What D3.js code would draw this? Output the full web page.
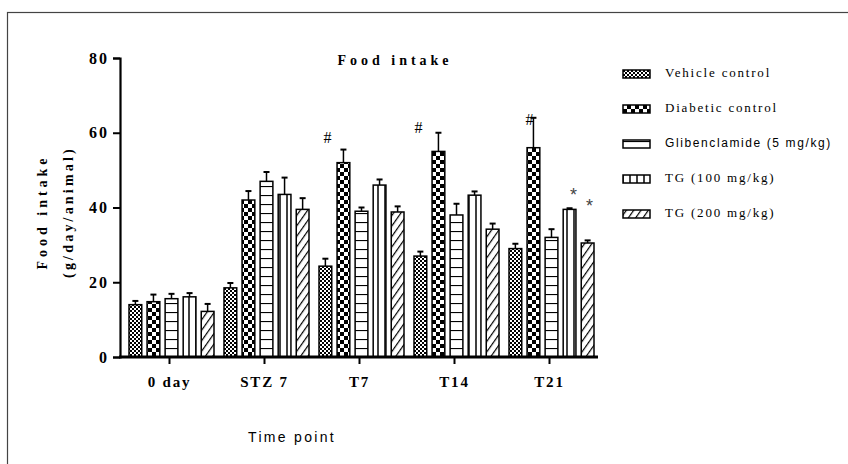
<!DOCTYPE html>
<html>
<head>
<meta charset="utf-8">
<script src="https://cdn.jsdelivr.net/npm/d3@7"></script>
<style>
	body { margin: 0; background: #fff; }
	svg { display: block; }
	.serif { font-family: "Liberation Serif", "Times New Roman", serif; }
	.sans { font-family: "Liberation Sans", Arial, sans-serif; }
</style>
</head>
<body>
<svg id="chart" width="848" height="464"></svg>
<script>
// values
const timePoints = ["0 day", "STZ 7", "T7", "T14", "T21"];
const seriesNames = ["Vehicle control", "Diabetic control", "Glibenclamide (5 mg/kg)", "TG (100 mg/kg)", "TG (200 mg/kg)"];
const vehicleMeans  = [14, 18.5, 24.3, 27, 29];
const vehicleErr    = [1, 1.3, 2, 1.2, 1.3];
const diabeticMeans = [14.8, 42, 52, 55, 56];
const diabeticErr   = [1.9, 2.4, 3.5, 5, 8];
const glibMeans     = [15.6, 47, 39, 38, 32];
const glibErr       = [1.3, 2.5, 1, 3, 2.2];
const tg100Means    = [16.1, 43.5, 46, 43.3, 39.5];
const tg100Err      = [1, 4.5, 1.5, 1, 0.3];
const tg200Means    = [12.2, 39.5, 38.8, 34.2, 30.5];
const tg200Err      = [2, 3, 1.5, 1.5, 0.7];
const yTicks = [0, 20, 40, 60, 80];
const marks = [
	{group: "T7", series: 1, label: "#", value: 58.3, dx: -16},
	{group: "T14", series: 1, label: "#", value: 61, dx: -20},
	{group: "T21", series: 1, label: "#", value: 63, dx: -4},
	{group: "T21", series: 3, label: "*", value: 44.2, dx: 4},
	{group: "T21", series: 4, label: "*", value: 41.2, dx: 2}
];

const means = [vehicleMeans, diabeticMeans, glibMeans, tg100Means, tg200Means];
const errs = [vehicleErr, diabeticErr, glibErr, tg100Err, tg200Err];
const patterns = ["pVehicle", "pDiabetic", "pGlib", "pTg100", "pTg200"];

const svg = d3.select("#chart");

// frame round the figure
svg.append("rect")
	.attr("x", 7.5).attr("y", 12.5)
	.attr("width", 860).attr("height", 470)
	.attr("fill", "none").attr("stroke", "#444").attr("stroke-width", 1.2);

// fill patterns
const defs = svg.append("defs");
let p = defs.append("pattern").attr("id", "pVehicle").attr("patternUnits", "userSpaceOnUse")
	.attr("width", 4).attr("height", 4);
p.append("rect").attr("width", 4).attr("height", 4).attr("fill", "#fff");
p.append("rect").attr("width", 2).attr("height", 2).attr("fill", "#000");
p.append("rect").attr("x", 2).attr("y", 2).attr("width", 2).attr("height", 2).attr("fill", "#000");

p = defs.append("pattern").attr("id", "pDiabetic").attr("patternUnits", "userSpaceOnUse")
	.attr("width", 8).attr("height", 8);
p.append("rect").attr("width", 8).attr("height", 8).attr("fill", "#fff");
p.append("rect").attr("width", 4).attr("height", 4).attr("fill", "#000");
p.append("rect").attr("x", 4).attr("y", 4).attr("width", 4).attr("height", 4).attr("fill", "#000");

p = defs.append("pattern").attr("id", "pGlib").attr("patternUnits", "userSpaceOnUse")
	.attr("width", 9).attr("height", 9).attr("y", 357);
p.append("rect").attr("width", 9).attr("height", 9).attr("fill", "#fff");
p.append("line").attr("x1", 0).attr("x2", 9).attr("y1", 0.5).attr("y2", 0.5)
	.attr("stroke", "#000").attr("stroke-width", 1.2);

p = defs.append("pattern").attr("id", "pTg100").attr("patternUnits", "userSpaceOnUse")
	.attr("width", 7).attr("height", 7).attr("x", 1);
p.append("rect").attr("width", 7).attr("height", 7).attr("fill", "#fff");
p.append("line").attr("y1", 0).attr("y2", 7).attr("x1", 6).attr("x2", 6)
	.attr("stroke", "#000").attr("stroke-width", 1.5);

p = defs.append("pattern").attr("id", "pTg200").attr("patternUnits", "userSpaceOnUse")
	.attr("width", 6).attr("height", 6).attr("patternTransform", "rotate(35)");
p.append("rect").attr("width", 6).attr("height", 6).attr("fill", "#fff");
p.append("line").attr("x1", 0).attr("x2", 0).attr("y1", 0).attr("y2", 6)
	.attr("stroke", "#000").attr("stroke-width", 2.4);

// scales
const y = d3.scaleLinear().domain([0, 80]).range([357, 58]);
const x0 = d3.scaleBand().domain(timePoints).range([122, 597]);
const x1 = d3.scaleBand().domain(d3.range(seriesNames.length)).range([7, 92]).paddingInner(5 / 17);

// bars
const rows = [];
timePoints.forEach((t, gi) => {
	means.forEach((m, si) => rows.push({group: t, series: si, value: m[gi], err: errs[si][gi]}));
});

const groups = svg.append("g");
const barX = d => x0(d.group) + x1(d.series);

groups.selectAll("line.err").data(rows).enter().append("line")
	.attr("class", "err")
	.attr("x1", d => barX(d) + x1.bandwidth() / 2).attr("x2", d => barX(d) + x1.bandwidth() / 2)
	.attr("y1", d => y(d.value)).attr("y2", d => y(d.value + d.err))
	.attr("stroke", "#000").attr("stroke-width", 1.5);
groups.selectAll("line.cap").data(rows).enter().append("line")
	.attr("class", "cap")
	.attr("x1", d => barX(d) + x1.bandwidth() / 2 - 3).attr("x2", d => barX(d) + x1.bandwidth() / 2 + 3)
	.attr("y1", d => y(d.value + d.err)).attr("y2", d => y(d.value + d.err))
	.attr("stroke", "#000").attr("stroke-width", 2);

groups.selectAll("rect.bar").data(rows).enter().append("rect")
	.attr("class", "bar")
	.attr("x", barX)
	.attr("y", d => y(d.value))
	.attr("width", x1.bandwidth())
	.attr("height", d => y(0) - y(d.value))
	.attr("fill", d => "url(#" + patterns[d.series] + ")")
	.attr("stroke", "#000").attr("stroke-width", 1.5);

// significance marks
svg.selectAll("text.mark").data(marks).enter().append("text")
	.attr("class", d => d.label === "#" ? "mark serif" : "mark sans")
	.attr("x", d => x0(d.group) + x1(d.series) + x1.bandwidth() / 2 + d.dx)
	.attr("y", d => y(d.value) + (d.label === "#" ? 0 : 4))
	.attr("dominant-baseline", "middle")
	.attr("text-anchor", "middle")
	.attr("font-size", d => d.label === "#" ? "16px" : "18px")
	.attr("fill", d => d.label === "#" ? "#000" : "#444")
	.text(d => d.label);

// axes
const yAxis = svg.append("g")
	.attr("transform", "translate(120,0)")
	.call(d3.axisLeft(y).tickValues(yTicks).tickSize(7).tickPadding(4));
yAxis.select(".domain").attr("stroke-width", 2.2);
yAxis.selectAll(".tick line").attr("stroke-width", 2);
yAxis.selectAll("text")
	.attr("class", "serif")
	.attr("font-size", "16px").attr("font-weight", "bold")
	.attr("letter-spacing", "2px").attr("fill", "#000");

const xAxis = svg.append("g")
	.attr("transform", "translate(0,357)")
	.call(d3.axisBottom(x0).tickSize(7).tickSizeOuter(0).tickPadding(12));
xAxis.select(".domain").attr("d", "M119,0H598").attr("stroke-width", 2.8);
xAxis.selectAll(".tick line").attr("stroke-width", 2);
xAxis.selectAll("text")
	.attr("class", "serif")
	.attr("font-size", "15px").attr("font-weight", "bold")
	.attr("letter-spacing", "1.8px").attr("fill", "#000");

// titles
svg.append("text").attr("class", "serif")
	.attr("x", 395).attr("y", 65)
	.attr("text-anchor", "middle")
	.attr("font-size", "14px").attr("font-weight", "bold")
	.attr("letter-spacing", "4px")
	.text("Food intake");

const yl = svg.append("text").attr("class", "serif")
	.attr("transform", "translate(0,212) rotate(-90)")
	.attr("text-anchor", "middle")
	.attr("font-size", "14px").attr("font-weight", "bold")
	.attr("letter-spacing", "4px");
yl.append("tspan").attr("x", 0).attr("y", 47).text("Food intake");
yl.append("tspan").attr("x", 0).attr("y", 73).attr("letter-spacing", "3.2px").text("(g/day/animal)");

svg.append("text").attr("class", "sans")
	.attr("x", 292).attr("y", 442)
	.attr("text-anchor", "middle")
	.attr("font-size", "14px")
	.attr("letter-spacing", "2.3px")
	.text("Time point");

// legend
const legend = svg.append("g").attr("transform", "translate(623,0)");
const ly = d3.scalePoint().domain(d3.range(seriesNames.length)).range([74, 214]);
const item = legend.selectAll("g").data(seriesNames).enter().append("g")
	.attr("transform", (d, i) => "translate(0," + ly(i) + ")");
item.append("rect")
	.attr("x", 0).attr("y", -4).attr("width", 27).attr("height", 8)
	.attr("fill", (d, i) => "url(#" + patterns[i] + ")")
	.attr("stroke", "#000").attr("stroke-width", 1.5);
item.append("text")
	.attr("class", (d, i) => i === 2 ? "sans" : "serif")
	.attr("x", 42).attr("y", 0)
	.attr("dominant-baseline", "middle")
	.attr("font-size", (d, i) => i === 2 ? "12px" : "13px")
	.attr("letter-spacing", (d, i) => i === 2 ? "1.6px" : "1.8px")
	.text(d => d);
</script>
</body>
</html>
